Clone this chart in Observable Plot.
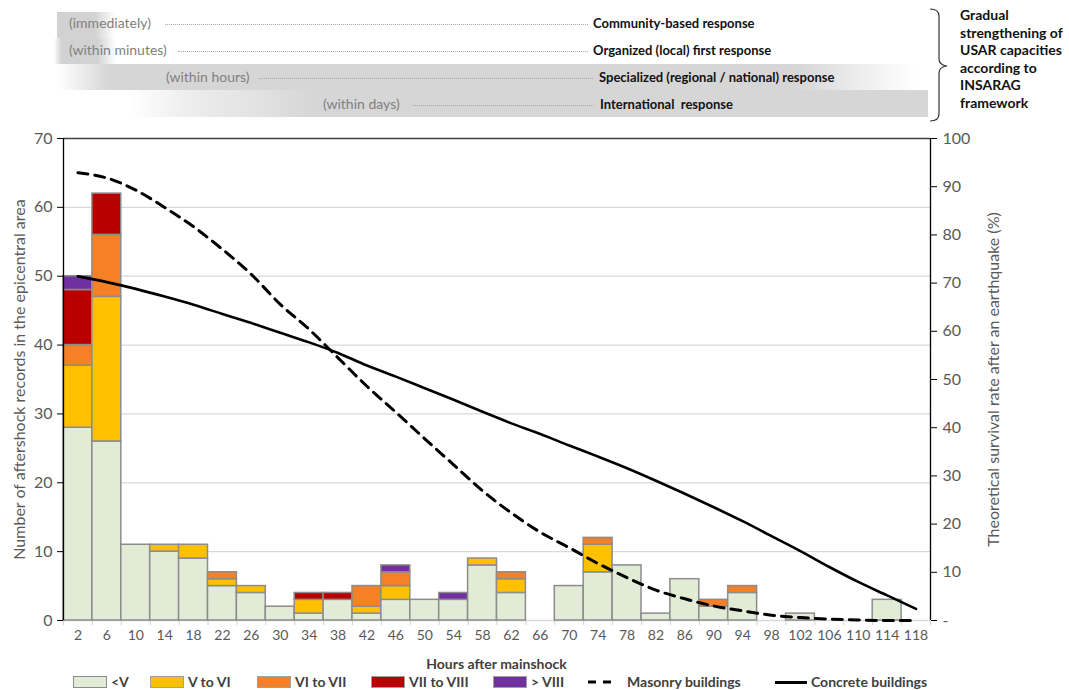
<!DOCTYPE html>
<html><head><meta charset="utf-8">
<script src="https://cdn.jsdelivr.net/npm/d3@7"></script>
<script src="https://cdn.jsdelivr.net/npm/@observablehq/plot@0.6"></script>
<style>
body{margin:0;background:#fff;font-family:Lato,"Open Sans",sans-serif;}
#wrap{position:relative;width:1069px;height:690px;overflow:hidden;background:#fff;}
.band{position:absolute;}
.paren{position:absolute;color:#808080;font-size:14px;line-height:26px;white-space:nowrap;}
.resp{position:absolute;color:#111;font-size:13px;font-weight:700;line-height:26px;white-space:nowrap;}
.dots{position:absolute;border-top:1px dotted #a8a8a8;height:0;}
#note{position:absolute;left:960px;top:6px;font-size:14px;font-weight:700;line-height:17.6px;color:#111;}
#chart{position:absolute;left:0;top:122px;}
#xtitle{position:absolute;left:0;width:993px;top:654px;text-align:center;padding-left:0;font-size:14px;font-weight:700;color:#404040;line-height:20px;}
.lg{position:absolute;top:673px;font-size:14px;font-weight:700;color:#404040;line-height:18px;white-space:nowrap;}
.sw{position:absolute;top:676px;width:34px;height:12px;box-sizing:border-box;border:1.5px solid #8c8c8c;}
.ln{position:absolute;height:0;width:32px;}
</style>
</head><body>
<div id="wrap">
  <div class="band" style="left:57px;top:12px;width:58px;height:26px;background:linear-gradient(to right,#d2d2d2 0%,#d2d2d2 65%,rgba(210,210,210,0) 100%);"></div>
  <div class="band" style="left:54px;top:38px;width:62px;height:26px;background:linear-gradient(to right,rgba(210,210,210,0) 0%,#d2d2d2 12%,#d2d2d2 70%,rgba(210,210,210,0) 100%);"></div>
  <div class="band" style="left:58px;top:64px;width:858px;height:26px;background:linear-gradient(to right,rgba(214,214,214,0) 0%,#d6d6d6 6%,#d6d6d6 86%,#ececec 93%,rgba(240,240,240,0) 100%);"></div>
  <div class="band" style="left:130px;top:90px;width:798px;height:27px;background:linear-gradient(to right,rgba(214,214,214,0) 0%,#ececec 8%,#e2e2e2 16%,#d6d6d6 23%,#d6d6d6 100%);"></div>

  <div class="paren" style="left:69px;top:10px;">(immediately)</div>
  <div class="dots" style="left:165px;width:423px;top:24px;"></div>
  <div class="resp" style="left:593px;top:10px;">Community-based response</div>

  <div class="paren" style="left:69px;top:37px;">(within minutes)</div>
  <div class="dots" style="left:178px;width:410px;top:51px;"></div>
  <div class="resp" style="left:593px;top:37px;">Organized (local) first response</div>

  <div class="paren" style="left:166px;top:64px;">(within hours)</div>
  <div class="dots" style="left:259px;width:334px;top:78px;"></div>
  <div class="resp" style="left:599px;top:64px;">Specialized (regional / national) response</div>

  <div class="paren" style="left:323px;top:91px;">(within days)</div>
  <div class="dots" style="left:413px;width:181px;top:105px;"></div>
  <div class="resp" style="left:600px;top:91px;">International&nbsp; response</div>

  <svg style="position:absolute;left:922px;top:0px;" width="40" height="125">
    <path d="M8,9 Q17,9 17,16 L17,59 Q17,65 25,66 Q17,67 17,73 L17,114 Q17,121 8,121" fill="none" stroke="#333" stroke-width="1.2"/>
  </svg>
  <div id="note">Gradual<br>strengthening of<br>USAR capacities<br>according to<br>INSARAG<br>framework</div>

  <div id="chart"></div>
  <div id="xtitle">Hours after mainshock</div>
  <div id="legend"></div>
</div>
<script>
// Hours after mainshock (category centres)
const hours = [2,6,10,14,18,22,26,30,34,38,42,46,50,54,58,62,66,70,74,78,82,86,90,94,98,102,106,110,114,118];
// Aftershock counts by intensity class
const lessV     = [28,26,11,10,9,5,4,2,1,3,1,3,3,3,8,4,0,5,7,8,1,6,2,4,0,1,0,0,3,0];
const vToVI     = [9,21,0,1,2,1,1,0,2,0,1,2,0,0,1,2,0,0,4,0,0,0,0,0,0,0,0,0,0,0];
const viToVII   = [3,9,0,0,0,1,0,0,0,0,3,2,0,0,0,1,0,0,1,0,0,0,1,1,0,0,0,0,0,0];
const viiToVIII = [8,6,0,0,0,0,0,0,1,1,0,0,0,0,0,0,0,0,0,0,0,0,0,0,0,0,0,0,0,0];
const overVIII  = [2,0,0,0,0,0,0,0,0,0,0,1,0,1,0,0,0,0,0,0,0,0,0,0,0,0,0,0,0,0];
const classes = ["<V","V to VI","VI to VII","VII to VIII","> VIII"];
const classColors = ["#e2ebd6","#ffc000","#f58025","#b80000","#7030a0"];
// Theoretical survival rate (%)
const masonry  = [92.9,91.8,89.3,85.7,81.7,77.0,71.8,65.6,60.4,54.5,48.6,43.2,37.7,32.3,26.9,22.3,18.3,15.1,11.8,8.9,6.3,4.5,3.0,2.0,1.1,0.6,0.3,0.1,0.0,0.0];
const concrete = [71.4,70.2,68.8,67.2,65.5,63.6,61.7,59.7,57.7,55.5,52.9,50.6,48.2,45.8,43.3,40.9,38.7,36.3,34.0,31.6,29.0,26.3,23.5,20.6,17.5,14.4,11.1,8.0,5.2,2.4];
// Axis ticks
const leftTicks = [0,10,20,30,40,50,60,70];
const rightTicks = [0,10,20,30,40,50,60,70,80,90,100];
const binWidth = 4;

const series = [lessV, vToVI, viToVII, viiToVIII, overVIII];
const bars = [];
hours.forEach((h, i) => {
  let base = 0;
  series.forEach((s, k) => {
    if (s[i] > 0) {
      bars.push({h, cls: classes[k], y1: base, y2: base + s[i]});
      base += s[i];
    }
  });
});
const ratio = 70 / 100; // right axis (0-100%) onto left axis (0-70)
const survival = hours.map((h, i) => ({h, masonry: masonry[i], concrete: concrete[i]}));
const bounds = d3.range(0, 121, binWidth);

const chart = Plot.plot({
  width: 1069, height: 528,
  marginTop: 16, marginLeft: 63, marginRight: 139, marginBottom: 30,
  x: {domain: [0, 120]},
  y: {domain: [0, 70]},
  color: {domain: classes, range: classColors},
  style: {fontFamily: "Lato, 'Open Sans', sans-serif", fontSize: "15px", color: "#595959", background: "white", overflow: "visible"},
  marks: [
    Plot.ruleY(leftTicks.filter(d => d > 0 && d < 70), {stroke: "#d9d9d9", strokeWidth: 1.3}),
    Plot.ruleY([0], {stroke: "#d9d9d9", strokeWidth: 1.3}),
    Plot.axisX(bounds, {tickSize: 5, fill: "none", stroke: "#d0d0d0", label: null}),
    Plot.axisX(hours, {tickSize: 0, tickPadding: 10, fontSize: 14, fill: "#595959", label: null}),
    Plot.rect(bars, {x1: d => d.h - binWidth/2, x2: d => d.h + binWidth/2, y1: "y1", y2: "y2", fill: "cls", stroke: "#8c8c8c", strokeWidth: 1.5}),
    Plot.line(survival, {x: "h", y: d => d.masonry * ratio, curve: "monotone-x", stroke: "#000", strokeWidth: 3, strokeDasharray: "10,7"}),
    Plot.line(survival, {x: "h", y: d => d.concrete * ratio, curve: "monotone-x", stroke: "#000", strokeWidth: 2.6}),
    Plot.ruleY([70], {stroke: "#404040", strokeWidth: 1.3}),
    Plot.ruleX([0], {stroke: "#000", strokeWidth: 1.3}),
    Plot.ruleX([120], {stroke: "#000", strokeWidth: 1.3}),
    Plot.axisY(leftTicks, {anchor: "left", tickSize: 6, tickPadding: 5, stroke: "#000", fill: "#595959", fontSize: 16, label: null}),
    Plot.axisY([], {anchor: "left", tickSize: 0, fill: "#595959", fontSize: 16,
      label: "Number of aftershock records in the epicentral area", labelAnchor: "center", labelOffset: 50, labelArrow: "none"}),
    Plot.axisY(rightTicks.map(d => d * ratio), {anchor: "right", tickSize: 6, tickPadding: 6, stroke: "#000", fill: "#595959", fontSize: 16,
      tickFormat: d => { const p = Math.round(d / ratio); return p === 0 ? "-" : String(p); }, label: null}),
    Plot.axisY([], {anchor: "right", tickSize: 0, fill: "#595959", fontSize: 16,
      label: "Theoretical survival rate after an earthquake (%)", labelAnchor: "center", labelOffset: 68, labelArrow: "none"})
  ]
});
document.getElementById("chart").appendChild(chart);

// Legend
const legend = document.getElementById("legend");
const swLeft = [73, 150, 257, 371, 493];
classes.forEach((c, i) => {
  const s = document.createElement("div");
  s.className = "sw"; s.style.left = swLeft[i] + "px"; s.style.background = classColors[i];
  if (i > 0) s.style.borderColor = "#a0a0a0";
  legend.appendChild(s);
  const t = document.createElement("div");
  t.className = "lg"; t.style.left = (swLeft[i] + 38) + "px"; t.textContent = c;
  legend.appendChild(t);
});
const lines = [{name: "Masonry buildings", left: 587, dash: true}, {name: "Concrete buildings", left: 775, dash: false}];
lines.forEach(l => {
  const d = document.createElement("div");
  d.className = "ln"; d.style.left = l.left + "px"; d.style.top = "681px";
  d.style.borderTop = l.dash ? "3px dashed #000" : "3px solid #000";
  if (l.dash) { d.style.width = "30px"; d.style.borderTop = "none";
    d.innerHTML = '<svg width="32" height="4" style="position:absolute;top:-1px;left:0"><line x1="1" y1="2" x2="31" y2="2" stroke="#000" stroke-width="3" stroke-dasharray="8,7"/></svg>'; }
  legend.appendChild(d);
  const t = document.createElement("div");
  t.className = "lg"; t.style.left = (l.left + (l.dash ? 40 : 36)) + "px"; t.textContent = l.name;
  legend.appendChild(t);
});
</script>
</body></html>
